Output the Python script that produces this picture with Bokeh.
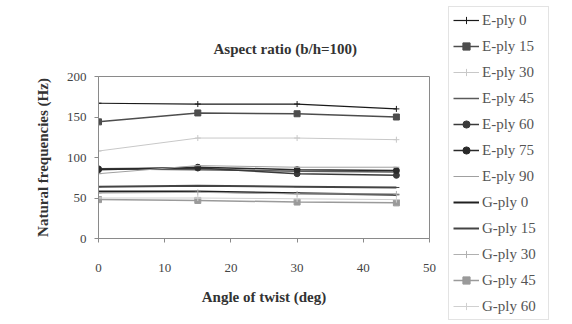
from bokeh.plotting import figure
from bokeh.models import Legend, LegendItem, FixedTicker, Range1d
from bokeh.embed import file_html
from bokeh.resources import INLINE

angles = [0, 15, 30, 45]
series_names = ["E-ply 0", "E-ply 15", "E-ply 30", "E-ply 45", "E-ply 60", "E-ply 75",
                "E-ply 90", "G-ply 0", "G-ply 15", "G-ply 30", "G-ply 45", "G-ply 60"]
e_ply_0 = [167, 166, 166, 160]
e_ply_15 = [144, 155, 154, 150]
e_ply_30 = [108, 124, 124, 122]
e_ply_45 = [86, 85, 83, 82]
e_ply_60 = [86, 87, 80, 78]
e_ply_75 = [85, 88, 85, 84]
e_ply_90 = [80, 90, 88, 88]
g_ply_0 = [58, 58, 56, 54]
g_ply_15 = [64, 65, 64, 63]
g_ply_30 = [56, 57, 55, 55]
g_ply_45 = [48, 47, 45, 44]
g_ply_60 = [50, 50, 49, 48]
series_values = [e_ply_0, e_ply_15, e_ply_30, e_ply_45, e_ply_60, e_ply_75,
                 e_ply_90, g_ply_0, g_ply_15, g_ply_30, g_ply_45, g_ply_60]
x_ticks = [0, 10, 20, 30, 40, 50]
y_ticks = [0, 50, 100, 150, 200]

colors = ["#1a1a1a", "#4d4d4d", "#c8c8c8", "#5a5a5a", "#3a3a3a", "#2a2a2a",
          "#a0a0a0", "#202020", "#444444", "#b0b0b0", "#9a9a9a", "#d0d0d0"]
markers = ["cross", "square", "cross", "dash", "circle", "circle",
           "dash", "dash", "dash", "cross", "square", "cross"]
widths = [1.2, 1.5, 1, 1.5, 1.5, 1.5, 1, 2, 2, 1, 1.5, 1]

FONT = "Liberation Serif"

p = figure(frame_width=331, frame_height=162, output_backend="svg", toolbar_location=None,
           x_range=Range1d(0, 50), y_range=Range1d(0, 200),
           min_border_left=98, min_border_right=143, min_border_top=76, min_border_bottom=84)
p.background_fill_color = "white"
p.border_fill_color = "white"
p.outline_line_color = "#8a8a8a"
p.xgrid.visible = False
p.ygrid.visible = False

for ax in (p.xaxis[0], p.yaxis[0]):
    ax.axis_line_color = "#8a8a8a"
    ax.major_tick_line_color = "#8a8a8a"
    ax.minor_tick_line_color = None
    ax.major_tick_in = 0
    ax.major_tick_out = 4
    ax.major_label_text_font = FONT
    ax.major_label_text_font_size = "13px"
    ax.major_label_text_color = "#444444"
    ax.axis_label_text_font = FONT
    ax.axis_label_text_font_size = "15px"
    ax.axis_label_text_font_style = "bold"
    ax.axis_label_text_color = "#333333"

p.xaxis.ticker = FixedTicker(ticks=x_ticks)
p.yaxis.ticker = FixedTicker(ticks=y_ticks)
p.xaxis.axis_label = "Angle of twist (deg)"
p.yaxis.axis_label = "Natural frequencies (Hz)"
p.xaxis.major_label_standoff = 21
p.xaxis.axis_label_standoff = 14
p.yaxis.major_label_standoff = 8
p.yaxis.axis_label_standoff = 13

p.title.text = "Aspect ratio (b/h=100)"
p.title.text_font = FONT
p.title.text_font_size = "15px"
p.title.text_font_style = "bold"
p.title.text_color = "#333333"
p.title.align = "left"
p.title.offset = 115
p.title.vertical_align = "top"
p.title.standoff = 35

items = []
for name, vals, c, m, w in zip(series_names, series_values, colors, markers, widths):
    r1 = p.line(angles, vals, line_color=c, line_width=w)
    r2 = p.scatter(angles, vals, marker=m, size=6, line_color=c, fill_color=c)
    items.append(LegendItem(label=name, renderers=[r1, r2]))

legend = Legend(items=items, location=(19, -82), orientation="vertical",
                label_text_font=FONT, label_text_font_size="15px", label_text_color="#555555",
                glyph_width=26, glyph_height=18, label_height=18, label_width=62, spacing=8,
                padding=4, margin=0, label_standoff=3,
                border_line_color="#c8c8c8", background_fill_color="white")
p.add_layout(legend, "right")

open("out.html", "w").write(file_html(p, INLINE))
